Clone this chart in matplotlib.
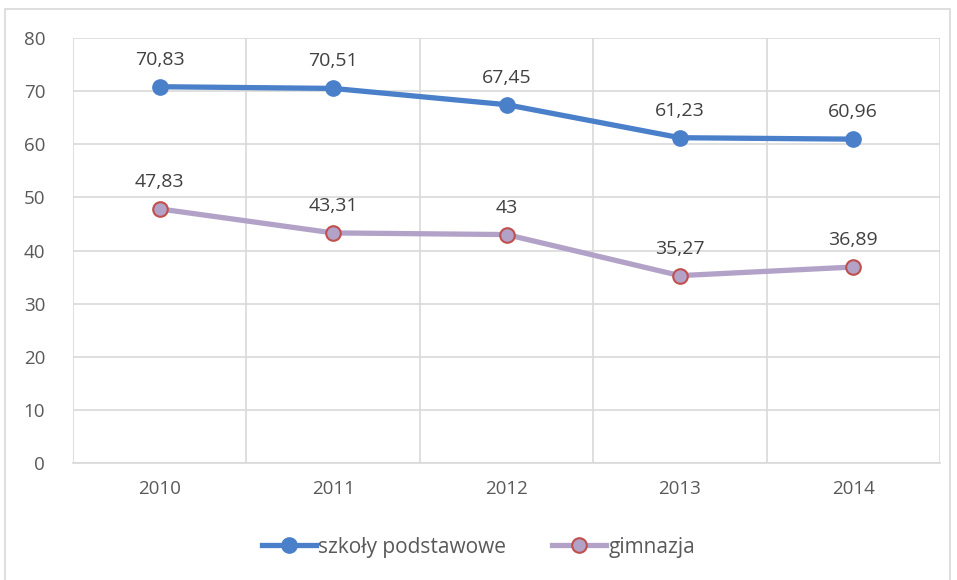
import matplotlib.pyplot as plt
from matplotlib.patches import Rectangle

years = ['2010', '2011', '2012', '2013', '2014']
podstawowe = [70.83, 70.51, 67.45, 61.23, 60.96]
gimnazja = [47.83, 43.31, 43, 35.27, 36.89]
podstawowe_labels = ['70,83', '70,51', '67,45', '61,23', '60,96']
gimnazja_labels = ['47,83', '43,31', '43', '35,27', '36,89']

plt.rcParams['font.family'] = ['Open Sans', 'DejaVu Sans']

fig = plt.figure(figsize=(9.57, 5.8), dpi=100)
fig.patches.append(Rectangle((5 / 957, -0.1), 945 / 957, 1.1 - 9 / 580,
                             transform=fig.transFigure, fill=False,
                             edgecolor='#d9d9d9', linewidth=1.2))
ax = fig.add_axes([73 / 957, 1 - 463 / 580, 867 / 957, 425 / 580])

x = range(len(years))
ax.plot(x, podstawowe, '-o', color='#4a7fc9', lw=3.8, ms=11,
        mfc='#4a7fc9', mec='#4a7fc9', label='szkoły podstawowe', zorder=3)
ax.plot(x, gimnazja, '-o', color='#b3a2c7', lw=3.8, ms=10.5,
        mfc='#b3a2c7', mec='#c0504d', mew=1.5, label='gimnazja', zorder=3)

for i in x:
    ax.annotate(podstawowe_labels[i], (i, podstawowe[i]), xytext=(0, 13),
                textcoords='offset points', ha='center', va='bottom',
                fontsize=14, color='#404040')
    ax.annotate(gimnazja_labels[i], (i, gimnazja[i]), xytext=(0, 13),
                textcoords='offset points', ha='center', va='bottom',
                fontsize=14, color='#404040')

ax.set_xlim(-0.5, 4.5)
ax.set_ylim(0, 80)
ax.set_yticks(range(0, 81, 10))
ax.set_xticks(list(x))
ax.set_xticklabels(years)
ax.set_xticks([i + 0.5 for i in range(-1, 5)], minor=True)
ax.grid(True, which='major', axis='y', color='#d9d9d9', lw=1.2)
ax.grid(True, which='minor', axis='x', color='#d9d9d9', lw=1.2)
ax.tick_params(which='both', length=0, labelsize=13.5, labelcolor='#595959')
ax.tick_params(axis='y', pad=20)
ax.tick_params(axis='x', pad=12)
for s in ax.spines.values():
    s.set_visible(False)
ax.spines['bottom'].set_visible(True)
ax.spines['bottom'].set_color('#d9d9d9')
ax.spines['bottom'].set_linewidth(1.2)

ax.legend(loc='center', bbox_to_anchor=(0.5, 1 - 547 / 580), bbox_transform=fig.transFigure,
          ncol=2, frameon=False, fontsize=15, labelcolor='#595959',
          handlelength=2.6, handletextpad=0.1, columnspacing=2.2)

fig.savefig('out.png', dpi=100)
